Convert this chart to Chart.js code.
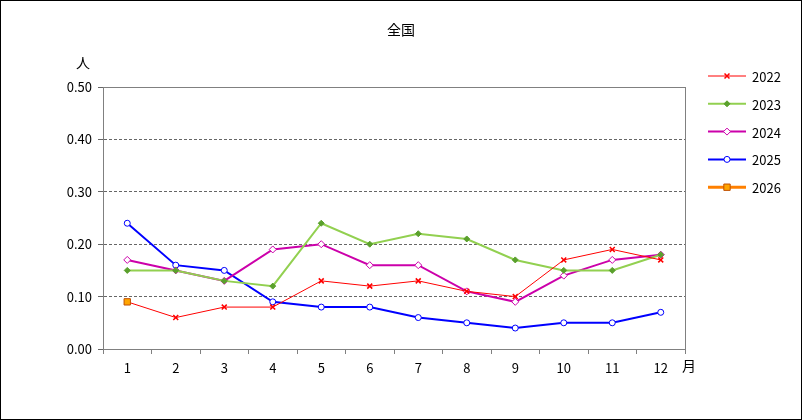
<!DOCTYPE html>
<html lang="ja">
<head>
<meta charset="UTF-8">
<title>全国</title>
<style>
  html, body { margin: 0; padding: 0; background: #fff; }
  #wrap { width: 802px; height: 420px; position: relative; }
  #wrap:after { content: ""; position: absolute; left: 0; top: 0; right: 0; bottom: 0; border: 1px solid #000; box-sizing: border-box; pointer-events: none; }
</style>
</head>
<body>
<div id="wrap"><canvas id="c" width="802" height="420"></canvas></div>
<script src="https://cdn.jsdelivr.net/npm/chart.js"></script>
<script>
const months = ['1','2','3','4','5','6','7','8','9','10','11','12'];
const yTicks = [0, 0.1, 0.2, 0.3, 0.4, 0.5];
const v2022 = [0.09, 0.06, 0.08, 0.08, 0.13, 0.12, 0.13, 0.11, 0.10, 0.17, 0.19, 0.17];
const v2023 = [0.15, 0.15, 0.13, 0.12, 0.24, 0.20, 0.22, 0.21, 0.17, 0.15, 0.15, 0.18];
const v2024 = [0.17, 0.15, 0.13, 0.19, 0.20, 0.16, 0.16, 0.11, 0.09, 0.14, 0.17, 0.18];
const v2025 = [0.24, 0.16, 0.15, 0.09, 0.08, 0.08, 0.06, 0.05, 0.04, 0.05, 0.05, 0.07];
const v2026 = [0.09, null, null, null, null, null, null, null, null, null, null, null];

const FONT = '"Noto Sans CJK JP", "DejaVu Sans", sans-serif';

const series = [
  { label: '2022', data: v2022, borderColor: '#ff0000', backgroundColor: '#ff0000', borderWidth: 1, pointStyle: 'crossRot', pointRadius: 3.5, pointBorderWidth: 1.5, order: 1 },
  { label: '2023', data: v2023, borderColor: '#92d050', backgroundColor: '#5aa02c', borderWidth: 2, pointStyle: 'rectRot', pointRadius: 3, pointBorderWidth: 1, pointBorderColor: '#5aa02c', order: 2 },
  { label: '2024', data: v2024, borderColor: '#cc00aa', backgroundColor: '#ffffff', borderWidth: 2, pointStyle: 'rectRot', pointRadius: 3.5, pointBorderWidth: 1, order: 3 },
  { label: '2025', data: v2025, borderColor: '#0000ff', backgroundColor: '#ffffff', borderWidth: 2, pointStyle: 'circle', pointRadius: 3, pointBorderWidth: 1, order: 4 },
  { label: '2026', data: v2026, borderColor: '#ff8000', backgroundColor: '#ffa500', borderWidth: 3, pointStyle: 'rect', pointRadius: 4.5, pointBorderWidth: 1, pointBorderColor: '#c05000', order: 0 }
];

// titles, unit labels, plot frame and legend
const extras = {
  id: 'extras',
  afterDraw(chart) {
    const ctx = chart.ctx, a = chart.chartArea;
    ctx.save();
    ctx.fillStyle = '#000';
    ctx.font = '14px ' + FONT;
    ctx.textAlign = 'center';
    ctx.textBaseline = 'middle';
    ctx.fillText('全国', 401, 30);
    ctx.fillText('人', 83, 63);
    ctx.fillText('月', 689, 366);
    ctx.strokeStyle = '#808080';
    ctx.lineWidth = 1;
    ctx.setLineDash([]);
    ctx.strokeRect(a.left + 0.5, a.top + 0.5, a.right - a.left, a.bottom - a.top);
    // legend
    ctx.font = '13px ' + FONT;
    ctx.textAlign = 'left';
    series.forEach((ds, i) => {
      const y = 76 + i * 27.8;
      ctx.strokeStyle = ds.borderColor;
      ctx.lineWidth = ds.borderWidth;
      ctx.beginPath(); ctx.moveTo(708, y); ctx.lineTo(746, y); ctx.stroke();
      ctx.fillStyle = ds.backgroundColor;
      ctx.strokeStyle = ds.pointBorderColor || ds.borderColor;
      ctx.lineWidth = ds.pointBorderWidth;
      Chart.helpers.drawPoint(ctx, { pointStyle: ds.pointStyle, radius: ds.pointRadius, borderWidth: ds.pointBorderWidth, rotation: 0 }, 727, y);
      ctx.fillStyle = '#000';
      ctx.fillText(ds.label, 752, y + 1);
    });
    ctx.restore();
  }
};

new Chart(document.getElementById('c'), {
  type: 'line',
  data: {
    labels: months,
    datasets: series.map(s => Object.assign({ fill: false, tension: 0, spanGaps: false, pointBorderColor: s.borderColor, pointBackgroundColor: s.backgroundColor }, s))
  },
  options: {
    responsive: false,
    animation: false,
    layout: { padding: { left: 53, top: 87, right: 117, bottom: 0 } },
    plugins: { legend: { display: false }, tooltip: { enabled: false }, title: { display: false } },
    scales: {
      x: {
        offset: true,
        afterFit: s => { s.height = 71; },
        grid: { offset: true, drawOnChartArea: false, drawTicks: true, tickLength: 5, color: '#808080' },
        border: { color: '#808080' },
        ticks: { color: '#000', font: { size: 13, family: FONT }, padding: 6 }
      },
      y: {
        min: 0, max: 0.5,
        afterFit: s => { s.width = 50; },
        afterBuildTicks: s => { s.ticks = yTicks.map(v => ({ value: v })); },
        grid: { color: '#666666', tickLength: 5, drawTicks: true },
        border: { color: '#808080', dash: [3, 2] },
        ticks: { color: '#000', font: { size: 13, family: FONT }, padding: 6, callback: v => v.toFixed(2) }
      }
    }
  },
  plugins: [extras]
});
</script>
</body>
</html>
